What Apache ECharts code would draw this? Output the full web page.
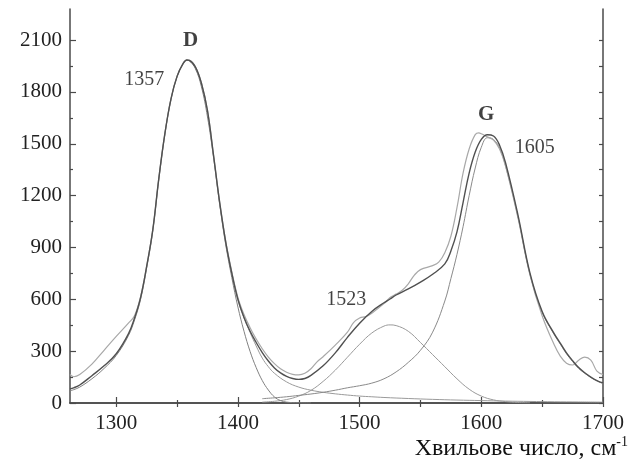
<!DOCTYPE html>
<html>
<head>
<meta charset="utf-8">
<script src="https://cdn.jsdelivr.net/npm/echarts@6/dist/echarts.min.js"></script>
<style>html,body{margin:0;padding:0;background:#fff;}#chart{width:632px;height:468px;}</style>
</head>
<body>
<div id="chart"></div>
<script>
// ---- data ----
const xTickLabels = [1300, 1400, 1500, 1600, 1700];
const xMinorTicks = [1350, 1450, 1550, 1650];
const yTickLabels = [0, 300, 600, 900, 1200, 1500, 1800, 2100];
const yMinorTicks = [150, 450, 750, 1050, 1350, 1650, 1950];

const expSpectrum = [
[1262,165],[1265,152],[1270,165],[1280,225],[1290,305],[1300,385],[1310,462],[1315,505],[1320,615],[1325,792],[1330,1002],[1335,1302],[1340,1562],[1345,1762],[1350,1892],[1355,1966],[1358,1986],[1360,1984],[1365,1946],[1370,1852],[1375,1692],[1380,1432],[1385,1162],[1390,935],[1395,758],[1400,610],[1405,512],[1410,436],[1415,370],[1420,314],[1425,266],[1430,228],[1435,198],[1440,178],[1445,166],[1450,163],[1455,172],[1460,198],[1465,238],[1470,268],[1480,335],[1490,410],[1495,465],[1500,492],[1505,500],[1510,520],[1520,575],[1525,610],[1530,630],[1535,652],[1540,690],[1545,740],[1550,772],[1560,795],[1565,815],[1570,870],[1575,965],[1580,1130],[1585,1330],[1590,1470],[1595,1553],[1598,1563],[1600,1558],[1605,1540],[1610,1522],[1615,1470],[1620,1370],[1630,1075],[1640,740],[1650,505],[1660,335],[1665,270],[1670,230],[1675,220],[1680,248],[1685,266],[1690,248],[1695,185],[1700,165]
];
const fitCurve = [
[1262,82],[1265,88],[1270,104],[1280,158],[1290,215],[1300,285],[1310,400],[1315,490],[1320,610],[1325,790],[1330,1000],[1335,1300],[1340,1560],[1345,1760],[1350,1890],[1355,1965],[1358,1985],[1360,1983],[1365,1945],[1370,1850],[1375,1690],[1380,1430],[1385,1160],[1390,930],[1395,750],[1400,600],[1405,495],[1410,415],[1415,350],[1420,292],[1425,243],[1430,203],[1435,174],[1440,154],[1445,142],[1450,137],[1455,142],[1460,160],[1470,215],[1480,290],[1490,380],[1500,462],[1510,530],[1520,580],[1525,602],[1530,625],[1540,660],[1550,700],[1560,745],[1570,805],[1575,880],[1580,990],[1585,1160],[1590,1330],[1595,1452],[1600,1525],[1605,1552],[1610,1545],[1615,1492],[1620,1388],[1630,1092],[1640,752],[1650,530],[1660,400],[1665,345],[1670,290],[1675,245],[1680,205],[1685,175],[1690,150],[1695,130],[1700,116]
];
const dBand = [
[1262,70],[1265,77],[1270,92],[1280,140],[1290,200],[1300,275],[1310,390],[1315,480],[1320,600],[1325,782],[1330,995],[1335,1295],[1340,1556],[1345,1757],[1350,1888],[1355,1963],[1358,1983],[1360,1980],[1365,1935],[1370,1830],[1375,1655],[1380,1420],[1385,1150],[1390,915],[1395,725],[1400,555],[1405,415],[1410,298],[1415,205],[1420,130],[1425,75],[1430,35],[1435,14],[1440,5],[1450,1],[1460,0]
];
const dTail = [
[1395,748],[1400,596],[1405,492],[1410,408],[1415,330],[1420,260],[1425,210],[1430,172],[1440,122],[1450,92],[1460,74],[1470,62],[1480,53],[1490,46],[1500,40],[1510,36],[1520,32],[1540,26],[1560,21],[1580,17],[1600,14],[1620,11],[1640,9],[1660,7],[1680,6],[1700,5]
];
const band1523 = [
[1420,5],[1430,10],[1440,20],[1450,40],[1460,73],[1470,125],[1480,190],[1490,265],[1500,340],[1510,405],[1520,445],[1525,452],[1530,448],[1540,415],[1550,350],[1560,280],[1570,210],[1580,140],[1590,80],[1600,40],[1610,18],[1620,8],[1630,3],[1640,1]
];
const gBand = [
[1420,25],[1430,30],[1440,36],[1450,44],[1460,52],[1470,62],[1480,74],[1490,88],[1500,100],[1510,115],[1520,140],[1530,180],[1540,235],[1550,305],[1560,410],[1570,590],[1575,720],[1580,860],[1585,1020],[1590,1200],[1595,1360],[1600,1480],[1605,1535],[1610,1525],[1615,1475],[1620,1370],[1630,1080],[1640,745],[1650,525],[1660,395],[1665,340],[1670,285],[1675,240],[1680,200],[1685,172],[1690,148],[1695,128],[1700,112]
];
const peakLabels = [
  {text: 'D', at: [1361, 2100], bold: true},
  {text: '1357', at: [1323, 1870], bold: false},
  {text: 'G', at: [1604, 1667], bold: true},
  {text: '1605', at: [1644, 1479], bold: false},
  {text: '1523', at: [1489, 596], bold: false}
];
const xName = 'Хвильове число, см';
const xNameSup = '-1';

// ---- chart ----
const FONT = 'Liberation Serif, Times New Roman, serif';
const AX = '#4a4a4a';
const chart = echarts.init(document.getElementById('chart'), null, {renderer: 'canvas'});

function lineSeries(data, color, width, z) {
  return {
    type: 'line', data: data, symbol: 'none', smooth: 0.4,
    lineStyle: {color: color, width: width}, z: z, silent: true, animation: false
  };
}
const plain = v => String(v);

const xBase = {type: 'value', min: 1262, max: 1700, splitLine: {show: false}, gridIndex: 0};
const yBase = {type: 'value', min: 0, max: 2280, splitLine: {show: false}, gridIndex: 0};

chart.setOption({
  animation: false,
  backgroundColor: '#fff',
  grid: {left: 70, right: 29, top: 9, bottom: 65, containLabel: false},
  xAxis: [
    Object.assign({}, xBase, {
      position: 'bottom',
      axisLine: {show: true, lineStyle: {color: AX, width: 1.5}},
      axisTick: {show: true, inside: true, length: 6, lineStyle: {color: AX, width: 1.2}, customValues: xTickLabels},
      axisLabel: {show: true, customValues: xTickLabels, formatter: plain, fontFamily: FONT, fontSize: 21, color: '#222', margin: 10},
      name: '{a|' + xName + '}{b|' + xNameSup + '}',
      nameLocation: 'end', nameGap: 25,
      nameTextStyle: {
        align: 'right', verticalAlign: 'top', padding: [32, 0, 0, 0],
        rich: {
          a: {fontFamily: FONT, fontSize: 24, color: '#111', verticalAlign: 'bottom'},
          b: {fontFamily: FONT, fontSize: 14, color: '#111', verticalAlign: 'top', padding: [0, 0, 12, 0]}
        }
      }
    }),
    Object.assign({}, xBase, {
      position: 'bottom',
      axisLine: {show: false},
      axisTick: {show: true, inside: true, length: 3, lineStyle: {color: AX, width: 1.2}, customValues: xMinorTicks},
      axisLabel: {show: false}
    }),
    Object.assign({}, xBase, {
      position: 'top',
      axisLine: {show: true, lineStyle: {color: AX, width: 1.5}},
      axisTick: {show: true, inside: true, length: 4, lineStyle: {color: AX, width: 1.2},
        customValues: xTickLabels.concat(xMinorTicks)},
      axisLabel: {show: false}
    })
  ],
  yAxis: [
    Object.assign({}, yBase, {
      position: 'left',
      axisLine: {show: true, lineStyle: {color: AX, width: 1.5}},
      axisTick: {show: true, inside: true, length: 6, lineStyle: {color: AX, width: 1.2}, customValues: yTickLabels},
      axisLabel: {show: true, customValues: yTickLabels, formatter: plain, fontFamily: FONT, fontSize: 21, color: '#222', margin: 8}
    }),
    Object.assign({}, yBase, {
      position: 'left',
      axisLine: {show: false},
      axisTick: {show: true, inside: true, length: 3, lineStyle: {color: AX, width: 1.2}, customValues: yMinorTicks},
      axisLabel: {show: false}
    }),
    Object.assign({}, yBase, {
      position: 'right',
      axisLine: {show: true, lineStyle: {color: AX, width: 1.5}},
      axisTick: {show: true, inside: true, length: 4, lineStyle: {color: AX, width: 1.2},
        customValues: yTickLabels.concat(yMinorTicks)},
      axisLabel: {show: false}
    })
  ],
  series: [
    lineSeries(dTail, '#9a9a9a', 1, 2),
    lineSeries(band1523, '#9a9a9a', 1, 2),
    lineSeries(gBand, '#8a8a8a', 1, 2),
    lineSeries(dBand, '#808080', 1, 3),
    lineSeries(expSpectrum, '#a8a8a8', 1.2, 4),
    lineSeries(fitCurve, '#505050', 1.4, 5),
    {
      type: 'scatter', symbolSize: 0, silent: true, z: 10,
      data: peakLabels.map(p => ({
        name: p.text, value: p.at,
        label: {fontWeight: p.bold ? 'bold' : 'normal', fontSize: p.bold ? 21 : 20}
      })),
      label: {show: true, position: 'inside', formatter: '{b}', fontFamily: FONT, color: '#111'}
    }
  ]
});
</script>
</body>
</html>
